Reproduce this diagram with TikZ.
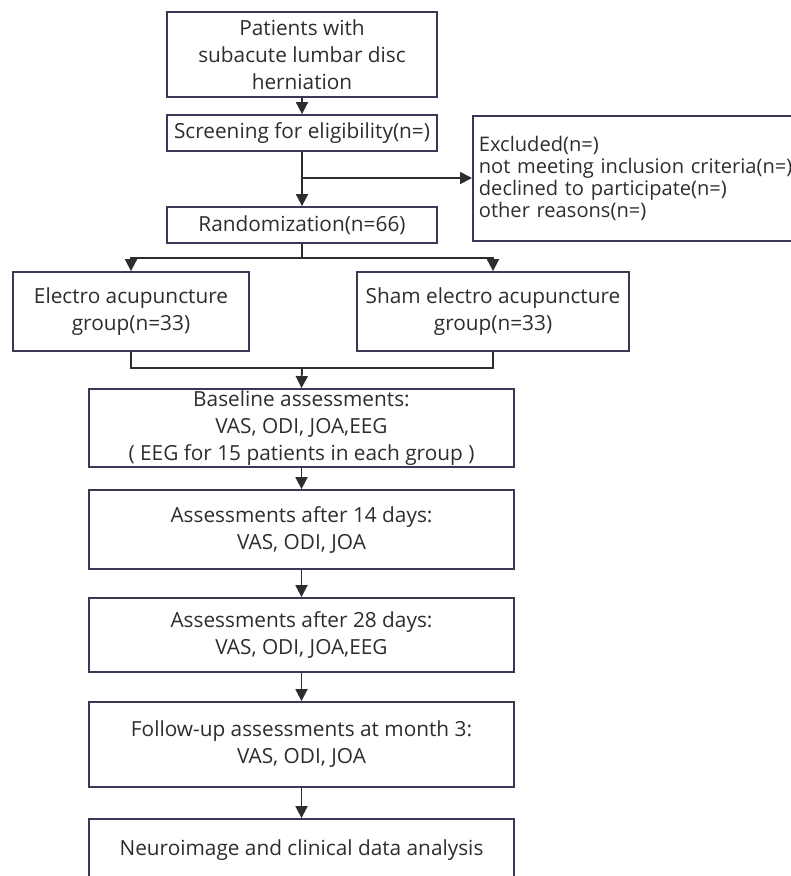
\documentclass[tikz,border=0pt]{standalone}
\usepackage{fontspec}
\setmainfont{Open Sans}
\usepackage{xcolor}
\usetikzlibrary{arrows.meta}
\definecolor{bdr}{RGB}{55,57,85}
\definecolor{ink}{RGB}{45,45,45}
\tikzset{
  bx/.style={draw=bdr,line width=1.8pt,text=ink,align=center,inner sep=0pt,font=\fontsize{20.8}{27}\selectfont},
  ex/.style={bx,align=left,inner xsep=6pt,font=\fontsize{20.1}{22.3}\selectfont},
  ar/.style={draw=ink,line width=1.8pt,-{Triangle[length=12pt,width=12pt]}},
  ln/.style={draw=ink,line width=1.8pt}
}

\begin{document}
\begin{tikzpicture}[x=1pt,y=-1pt]
\useasboundingbox (0,0) rectangle (791,876);
\clip (0,0) rectangle (791,876);
\node[bx,minimum width=270pt,minimum height=85pt] (pat) at (302,54.5) {Patients with\\subacute lumbar disc\\herniation};
\node[bx,minimum width=270pt,minimum height=36pt] (scr) at (302,133) {Screening for eligibility(n=)};
\node[bx,minimum width=270pt,minimum height=36pt] (rnd) at (302,225) {Randomization(n=66)};
\node[ex,text width=346pt,minimum height=125pt,anchor=north west] (exc) at (472,115) {Excluded(n=)\\not meeting inclusion criteria(n=)\\declined to participate(n=)\\other reasons(n=)};
\node[bx,minimum width=236pt,minimum height=79pt] (ea) at (131,311.5) {Electro acupuncture\\group(n=33)};
\node[bx,minimum width=272pt,minimum height=79pt] (sea) at (493,311.5) {Sham electro acupuncture\\group(n=33)};
\node[bx,minimum width=425pt,minimum height=78pt] (base) at (301.5,428) {Baseline assessments:\\VAS, ODI, JOA,EEG\\( EEG for 15 patients in each group )};
\node[bx,minimum width=425pt,minimum height=79pt] (d14) at (301.5,529.5) {Assessments after 14 days:\\VAS, ODI, JOA};
\node[bx,minimum width=425pt,minimum height=74pt] (d28) at (301.5,635) {Assessments after 28 days:\\VAS, ODI, JOA,EEG};
\node[bx,minimum width=425pt,minimum height=85pt] (fol) at (301.5,744.5) {Follow-up assessments at month 3:\\VAS, ODI, JOA};
\node[bx,minimum width=425pt,minimum height=62pt] (ana) at (301.5,850) {Neuroimage and clinical data analysis};
\coordinate (br) at (302,178);
\coordinate (jn) at (302,368);
\draw[ar] (pat) -- (scr);
\draw[ar] (scr) -- (rnd);
\draw[ar] (br) -- (br -| exc.west);
\draw[ar] (rnd.south) -- ++(0,14) -| (ea.north);
\draw[ar] (rnd.south) -- ++(0,14) -| (sea.north);
\draw[ln] (ea.south) |- (jn) -| (sea.south);
\draw[ar] (jn) -- (base.north);
\draw[ar] (base) -- (d14);
\draw[ar] (d14) -- (d28);
\draw[ar] (d28) -- (fol);
\draw[ar] (fol) -- (ana);
\end{tikzpicture}
\end{document}
